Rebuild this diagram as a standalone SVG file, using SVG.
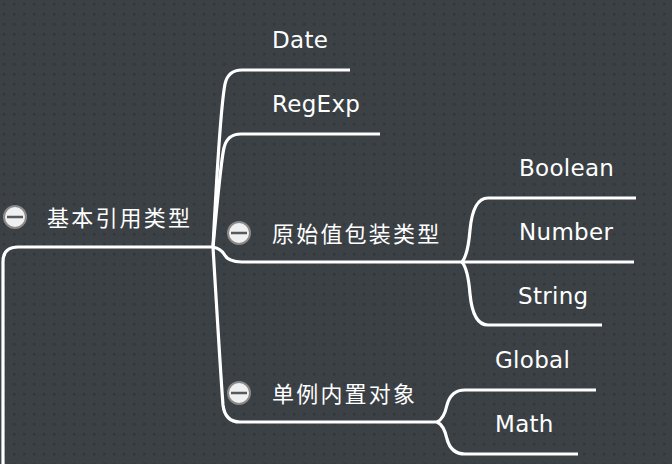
<svg xmlns="http://www.w3.org/2000/svg" width="672" height="464" viewBox="0 0 672 464">
<defs>
<pattern id="dots" width="10" height="10" patternUnits="userSpaceOnUse">
<rect x="3" y="3" width="2.5" height="2.5" fill="#32373b"/>
</pattern>
<style>
.bg{fill:#3c4146}
.ln{fill:none;stroke:#ffffff;stroke-width:3.2;stroke-linecap:butt;stroke-linejoin:round}
.lt{font-family:"DejaVu Sans","Liberation Sans",sans-serif;font-size:23px;fill:#ffffff;letter-spacing:0.3px}
.zh{font-family:"Noto Sans CJK SC","DejaVu Sans",sans-serif;font-size:22px;fill:#ffffff;letter-spacing:2.2px}
.cb{fill:#f0f0f0;stroke:#8a8a8a;stroke-width:2}
.cm{stroke:#555a5e;stroke-width:2.5}
</style>
</defs>
<rect class="bg" x="0" y="0" width="672" height="464"/>
<rect fill="url(#dots)" x="0" y="0" width="672" height="464"/>
<g id="connectors">
<path class="ln" d="M3,464 L3,262 Q3,247 18,247 L213,247"/>
<path class="ln" d="M213,247 Q220,110 225,84 Q228,70 242,70 L350,70"/>
<path class="ln" d="M213,247 Q221,160 224,148 Q227,134 241,134 L380,134"/>
<path class="ln" d="M213,247 Q221,249 224,254 Q228,262 242,262 L462,262"/>
<path class="ln" d="M213,247 Q221,380 223,405 Q225,422 240,422 L440,422"/>
<path class="ln" d="M462,262 Q468,255 470,230 Q473,198 488,198 L636,198"/>
<path class="ln" d="M462,262 L634,262"/>
<path class="ln" d="M462,262 Q468,269 470,294 Q473,325 488,325 L602,325"/>
<path class="ln" d="M437,422 Q444,419 447,405 Q451,390 465,390 L596,390"/>
<path class="ln" d="M437,422 Q444,425 447,439 Q451,454 465,454 L578,454"/>
</g>
<g id="root">
<circle class="cb" cx="15" cy="217" r="11"/>
<line class="cm" x1="7" y1="217" x2="23" y2="217"/>
<text class="zh" x="47" y="226">基本引用类型</text>
</g>
<g id="date"><text class="lt" x="272" y="48">Date</text></g>
<g id="regexp"><text class="lt" x="272" y="112">RegExp</text></g>
<g id="wrapper">
<circle class="cb" cx="239" cy="233" r="11"/>
<line class="cm" x1="231" y1="233" x2="247" y2="233"/>
<text class="zh" x="272" y="242">原始值包装类型</text>
</g>
<g id="boolean"><text class="lt" x="519" y="176">Boolean</text></g>
<g id="number"><text class="lt" x="519" y="240">Number</text></g>
<g id="string"><text class="lt" x="518" y="304">String</text></g>
<g id="singleton">
<circle class="cb" cx="239" cy="393" r="11"/>
<line class="cm" x1="231" y1="393" x2="247" y2="393"/>
<text class="zh" x="272" y="402">单例内置对象</text>
</g>
<g id="global"><text class="lt" x="495" y="368">Global</text></g>
<g id="math"><text class="lt" x="495" y="432">Math</text></g>
</svg>
